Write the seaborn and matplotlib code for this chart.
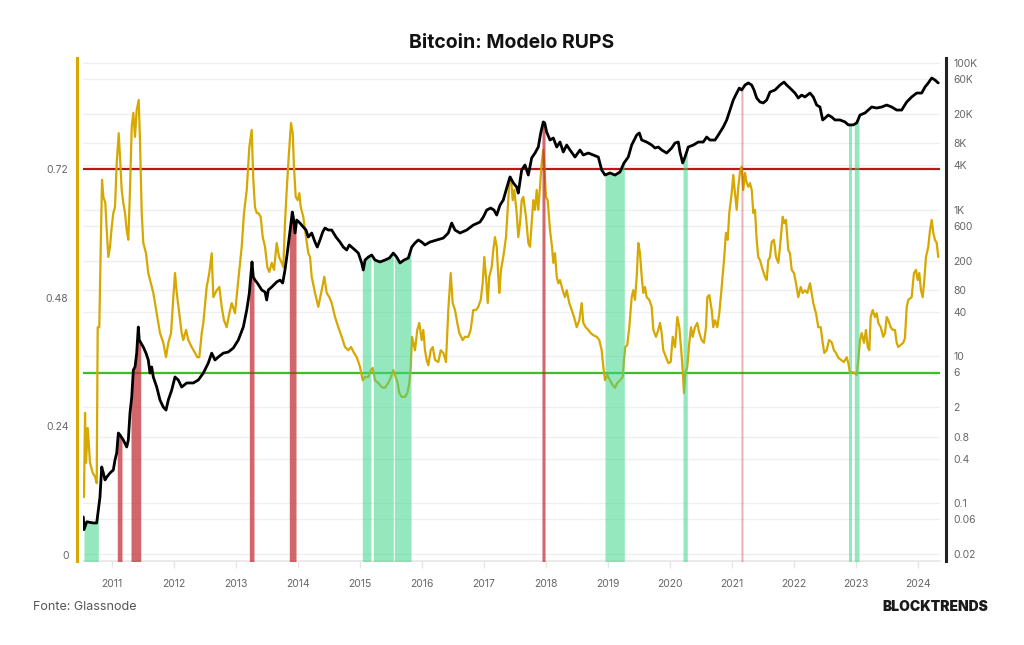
import matplotlib
matplotlib.use("Agg")
import matplotlib.pyplot as plt
import matplotlib.ticker as mticker
import matplotlib.transforms as mtransforms
import numpy as np
import pandas as pd
import seaborn as sns

# RUPS (left axis), decimal years
rups_year = [
    2010.548, 2010.565, 2010.581, 2010.608, 2010.645, 2010.689, 2010.726, 2010.753, 2010.769, 2010.795,
    2010.818, 2010.839, 2010.860, 2010.892, 2010.915, 2010.940, 2010.968, 2010.995, 2011.021, 2011.048,
    2011.076, 2011.108, 2011.129, 2011.156, 2011.182, 2011.210, 2011.237, 2011.263, 2011.290, 2011.318,
    2011.344, 2011.371, 2011.398, 2011.431, 2011.452, 2011.479, 2011.505, 2011.548, 2011.585, 2011.613,
    2011.666, 2011.721, 2011.774, 2011.827, 2011.871, 2011.908, 2011.952, 2011.989, 2012.016, 2012.044,
    2012.085, 2012.124, 2012.150, 2012.194, 2012.231, 2012.285, 2012.339, 2012.376, 2012.408, 2012.447,
    2012.473, 2012.527, 2012.569, 2012.608, 2012.634, 2012.689, 2012.731, 2012.769, 2012.806, 2012.850,
    2012.892, 2012.931, 2012.984, 2013.037, 2013.092, 2013.129, 2013.173, 2013.215, 2013.253, 2013.279,
    2013.306, 2013.334, 2013.360, 2013.398, 2013.431, 2013.468, 2013.505, 2013.537, 2013.576, 2013.613,
    2013.656, 2013.694, 2013.737, 2013.763, 2013.790, 2013.818, 2013.850, 2013.887, 2013.915, 2013.935,
    2013.963, 2013.995, 2014.021, 2014.044, 2014.085, 2014.129, 2014.166, 2014.194, 2014.221, 2014.274,
    2014.327, 2014.382, 2014.424, 2014.463, 2014.505, 2014.544, 2014.597, 2014.650, 2014.705, 2014.758,
    2014.811, 2014.855, 2014.903, 2014.947, 2015.000, 2015.044, 2015.081, 2015.134, 2015.173, 2015.205,
    2015.242, 2015.295, 2015.350, 2015.403, 2015.456, 2015.500, 2015.537, 2015.576, 2015.608, 2015.634,
    2015.673, 2015.726, 2015.763, 2015.795, 2015.818, 2015.839, 2015.860, 2015.887, 2015.924, 2015.956,
    2015.995, 2016.021, 2016.048, 2016.076, 2016.102, 2016.140, 2016.173, 2016.210, 2016.263, 2016.302,
    2016.344, 2016.387, 2016.424, 2016.463, 2016.495, 2016.532, 2016.569, 2016.602, 2016.656, 2016.694,
    2016.747, 2016.785, 2016.827, 2016.871, 2016.908, 2016.947, 2016.979, 2017.005, 2017.032, 2017.060,
    2017.085, 2017.124, 2017.150, 2017.177, 2017.205, 2017.231, 2017.247, 2017.274, 2017.311, 2017.355,
    2017.382, 2017.408, 2017.435, 2017.463, 2017.489, 2017.527, 2017.553, 2017.581, 2017.608, 2017.634,
    2017.677, 2017.715, 2017.742, 2017.769, 2017.795, 2017.823, 2017.850, 2017.876, 2017.903, 2017.931,
    2017.956, 2017.979, 2018.000, 2018.027, 2018.065, 2018.097, 2018.118, 2018.145, 2018.173, 2018.198,
    2018.226, 2018.269, 2018.306, 2018.334, 2018.376, 2018.415, 2018.452, 2018.495, 2018.537, 2018.576,
    2018.602, 2018.640, 2018.682, 2018.721, 2018.763, 2018.818, 2018.860, 2018.898, 2018.924, 2018.952,
    2018.989, 2019.032, 2019.076, 2019.113, 2019.150, 2019.194, 2019.237, 2019.258, 2019.279, 2019.311,
    2019.344, 2019.382, 2019.408, 2019.435, 2019.463, 2019.489, 2019.516, 2019.544, 2019.569, 2019.597,
    2019.624, 2019.666, 2019.705, 2019.731, 2019.774, 2019.811, 2019.839, 2019.866, 2019.892, 2019.935,
    2019.973, 2020.011, 2020.044, 2020.081, 2020.118, 2020.150, 2020.177, 2020.205, 2020.226, 2020.247,
    2020.279, 2020.311, 2020.339, 2020.366, 2020.403, 2020.440, 2020.473, 2020.511, 2020.548, 2020.581,
    2020.602, 2020.634, 2020.673, 2020.698, 2020.726, 2020.763, 2020.795, 2020.834, 2020.871, 2020.903,
    2020.931, 2020.956, 2020.995, 2021.021, 2021.048, 2021.076, 2021.102, 2021.129, 2021.156, 2021.182,
    2021.210, 2021.237, 2021.263, 2021.290, 2021.318, 2021.344, 2021.371, 2021.398, 2021.424, 2021.452,
    2021.495, 2021.532, 2021.560, 2021.585, 2021.613, 2021.640, 2021.677, 2021.710, 2021.747, 2021.774,
    2021.818, 2021.844, 2021.871, 2021.908, 2021.935, 2021.963, 2022.000, 2022.032, 2022.069, 2022.108,
    2022.140, 2022.177, 2022.215, 2022.258, 2022.285, 2022.311, 2022.355, 2022.392, 2022.431, 2022.463,
    2022.489, 2022.527, 2022.565, 2022.608, 2022.645, 2022.677, 2022.715, 2022.758, 2022.806, 2022.850,
    2022.876, 2022.903, 2022.956, 2023.011, 2023.037, 2023.065, 2023.092, 2023.129, 2023.161, 2023.189,
    2023.215, 2023.237, 2023.269, 2023.306, 2023.334, 2023.360, 2023.398, 2023.440, 2023.468, 2023.495,
    2023.521, 2023.560, 2023.592, 2023.629, 2023.656, 2023.682, 2023.721, 2023.763, 2023.790, 2023.818,
    2023.844, 2023.898, 2023.935, 2023.968, 2023.995, 2024.021, 2024.048, 2024.076, 2024.102, 2024.129,
    2024.166, 2024.194, 2024.221, 2024.247, 2024.274, 2024.302, 2024.327,
]
rups_value = [
    0.108, 0.265, 0.172, 0.237, 0.172, 0.153, 0.146, 0.134, 0.425, 0.425,
    0.575, 0.700, 0.668, 0.657, 0.606, 0.556, 0.575, 0.612, 0.638, 0.649,
    0.731, 0.787, 0.743, 0.681, 0.657, 0.638, 0.606, 0.588, 0.681, 0.799,
    0.825, 0.780, 0.830, 0.849, 0.769, 0.638, 0.582, 0.563, 0.526, 0.513,
    0.489, 0.451, 0.414, 0.396, 0.369, 0.396, 0.414, 0.481, 0.526, 0.489,
    0.451, 0.414, 0.401, 0.420, 0.401, 0.388, 0.377, 0.369, 0.369, 0.414,
    0.433, 0.500, 0.526, 0.563, 0.481, 0.494, 0.500, 0.463, 0.438, 0.425,
    0.451, 0.470, 0.451, 0.513, 0.575, 0.638, 0.681, 0.761, 0.793, 0.700,
    0.649, 0.638, 0.638, 0.631, 0.593, 0.575, 0.537, 0.528, 0.545, 0.532,
    0.582, 0.556, 0.545, 0.537, 0.619, 0.681, 0.743, 0.806, 0.787, 0.724,
    0.668, 0.662, 0.675, 0.649, 0.631, 0.593, 0.563, 0.556, 0.519, 0.489,
    0.463, 0.494, 0.519, 0.489, 0.481, 0.470, 0.444, 0.425, 0.407, 0.388,
    0.382, 0.388, 0.377, 0.369, 0.351, 0.326, 0.332, 0.332, 0.345, 0.349,
    0.326, 0.321, 0.313, 0.312, 0.321, 0.332, 0.345, 0.332, 0.321, 0.302,
    0.295, 0.295, 0.302, 0.321, 0.351, 0.407, 0.396, 0.382, 0.420, 0.433,
    0.401, 0.420, 0.382, 0.364, 0.354, 0.382, 0.388, 0.364, 0.360, 0.382,
    0.377, 0.360, 0.457, 0.526, 0.470, 0.457, 0.433, 0.414, 0.401, 0.407,
    0.407, 0.420, 0.457, 0.457, 0.463, 0.476, 0.507, 0.556, 0.519, 0.470,
    0.519, 0.537, 0.569, 0.593, 0.575, 0.519, 0.489, 0.532, 0.556, 0.593,
    0.644, 0.694, 0.705, 0.662, 0.681, 0.638, 0.593, 0.619, 0.662, 0.668,
    0.631, 0.582, 0.575, 0.619, 0.662, 0.644, 0.681, 0.644, 0.687, 0.731,
    0.756, 0.713, 0.668, 0.662, 0.606, 0.575, 0.545, 0.563, 0.519, 0.507,
    0.513, 0.494, 0.481, 0.494, 0.470, 0.457, 0.444, 0.425, 0.438, 0.470,
    0.433, 0.425, 0.420, 0.414, 0.410, 0.407, 0.401, 0.382, 0.351, 0.326,
    0.336, 0.326, 0.317, 0.312, 0.321, 0.326, 0.332, 0.364, 0.388, 0.392,
    0.425, 0.481, 0.494, 0.476, 0.519, 0.582, 0.563, 0.519, 0.489, 0.500,
    0.481, 0.476, 0.463, 0.420, 0.407, 0.420, 0.433, 0.414, 0.382, 0.369,
    0.358, 0.360, 0.407, 0.388, 0.444, 0.425, 0.388, 0.345, 0.302, 0.340,
    0.351, 0.396, 0.425, 0.407, 0.425, 0.433, 0.414, 0.401, 0.396, 0.425,
    0.481, 0.485, 0.457, 0.425, 0.438, 0.425, 0.451, 0.500, 0.550, 0.601,
    0.588, 0.638, 0.675, 0.709, 0.675, 0.644, 0.687, 0.715, 0.724, 0.681,
    0.713, 0.694, 0.687, 0.694, 0.681, 0.638, 0.644, 0.588, 0.556, 0.550,
    0.532, 0.519, 0.513, 0.550, 0.556, 0.584, 0.588, 0.556, 0.545, 0.575,
    0.631, 0.619, 0.625, 0.569, 0.563, 0.532, 0.526, 0.507, 0.481, 0.500,
    0.489, 0.494, 0.489, 0.507, 0.489, 0.470, 0.451, 0.425, 0.425, 0.396,
    0.377, 0.382, 0.401, 0.397, 0.382, 0.377, 0.368, 0.364, 0.360, 0.369,
    0.358, 0.340, 0.341, 0.336, 0.364, 0.401, 0.414, 0.396, 0.420, 0.388,
    0.382, 0.444, 0.457, 0.444, 0.451, 0.433, 0.425, 0.407, 0.414, 0.444,
    0.438, 0.425, 0.420, 0.420, 0.396, 0.388, 0.392, 0.396, 0.405, 0.463,
    0.476, 0.481, 0.526, 0.532, 0.513, 0.526, 0.494, 0.481, 0.513, 0.556,
    0.575, 0.606, 0.625, 0.601, 0.588, 0.582, 0.556,
]

# BTC price (right axis, log)
price_year = [
    2010.537, 2010.548, 2010.592, 2010.698, 2010.753, 2010.779, 2010.806, 2010.834, 2010.860, 2010.887,
    2010.915, 2010.968, 2011.021, 2011.048, 2011.076, 2011.102, 2011.129, 2011.182, 2011.237, 2011.263,
    2011.290, 2011.318, 2011.344, 2011.371, 2011.398, 2011.424, 2011.440, 2011.468, 2011.505, 2011.548,
    2011.585, 2011.613, 2011.640, 2011.666, 2011.721, 2011.774, 2011.827, 2011.871, 2011.908, 2011.963,
    2012.016, 2012.069, 2012.124, 2012.205, 2012.311, 2012.392, 2012.473, 2012.553, 2012.608, 2012.661,
    2012.715, 2012.795, 2012.876, 2012.956, 2013.037, 2013.118, 2013.173, 2013.215, 2013.258, 2013.279,
    2013.306, 2013.344, 2013.415, 2013.468, 2013.495, 2013.521, 2013.576, 2013.656, 2013.710, 2013.753,
    2013.790, 2013.827, 2013.860, 2013.887, 2013.908, 2013.924, 2013.952, 2013.979, 2014.032, 2014.085,
    2014.129, 2014.166, 2014.221, 2014.274, 2014.311, 2014.355, 2014.398, 2014.435, 2014.489, 2014.544,
    2014.613, 2014.677, 2014.731, 2014.785, 2014.827, 2014.866, 2014.919, 2014.973, 2015.027, 2015.053,
    2015.081, 2015.134, 2015.189, 2015.242, 2015.323, 2015.403, 2015.473, 2015.537, 2015.592, 2015.645,
    2015.710, 2015.779, 2015.834, 2015.887, 2015.940, 2015.995, 2016.048, 2016.129, 2016.237, 2016.344,
    2016.424, 2016.479, 2016.532, 2016.613, 2016.721, 2016.827, 2016.935, 2016.989, 2017.044, 2017.108,
    2017.161, 2017.205, 2017.258, 2017.311, 2017.366, 2017.419, 2017.473, 2017.527, 2017.553, 2017.608,
    2017.661, 2017.715, 2017.769, 2017.823, 2017.876, 2017.915, 2017.956, 2017.979, 2018.011, 2018.065,
    2018.118, 2018.173, 2018.226, 2018.279, 2018.334, 2018.387, 2018.468, 2018.548, 2018.602, 2018.682,
    2018.763, 2018.844, 2018.898, 2018.952, 2019.032, 2019.113, 2019.194, 2019.258, 2019.327, 2019.382,
    2019.463, 2019.505, 2019.544, 2019.624, 2019.705, 2019.758, 2019.811, 2019.866, 2019.947, 2020.027,
    2020.081, 2020.134, 2020.161, 2020.205, 2020.242, 2020.295, 2020.376, 2020.456, 2020.537, 2020.592,
    2020.645, 2020.726, 2020.779, 2020.860, 2020.915, 2020.968, 2021.021, 2021.076, 2021.118, 2021.156,
    2021.210, 2021.263, 2021.318, 2021.355, 2021.398, 2021.452, 2021.505, 2021.560, 2021.613, 2021.694,
    2021.774, 2021.839, 2021.882, 2021.935, 2022.016, 2022.069, 2022.124, 2022.177, 2022.258, 2022.311,
    2022.366, 2022.419, 2022.463, 2022.500, 2022.553, 2022.608, 2022.661, 2022.742, 2022.823, 2022.876,
    2022.956, 2023.011, 2023.065, 2023.145, 2023.198, 2023.253, 2023.334, 2023.415, 2023.495, 2023.576,
    2023.656, 2023.737, 2023.818, 2023.898, 2023.979, 2024.060, 2024.113, 2024.166, 2024.221, 2024.274,
    2024.327,
]
price_value = [
    0.064, 0.043, 0.055, 0.053, 0.053, 0.080, 0.120, 0.308, 0.255, 0.205,
    0.224, 0.255, 0.280, 0.383, 0.478, 0.895, 0.840, 0.718, 0.577, 0.718,
    1.68, 2.77, 6.47, 7.12, 11.0, 25.0, 16.6, 15.1, 13.3, 11.0,
    8.87, 5.89, 7.12, 5.20, 3.79, 2.52, 2.02, 1.84, 2.52, 3.45,
    5.20, 4.73, 3.79, 4.31, 4.31, 4.73, 5.89, 8.07, 11.0, 8.87,
    9.75, 11.0, 11.4, 12.9, 16.6, 25.0, 42.6, 72.7, 193, 120,
    109, 99.5, 80.0, 75.0, 58.4, 80.0, 87.9, 103, 109, 99.5,
    150, 255, 422, 655, 926, 791, 479, 720, 655, 578,
    526, 422, 479, 361, 308, 385, 494, 560, 526, 526,
    422, 361, 308, 281, 329, 308, 281, 255, 187, 150,
    205, 225, 240, 205, 193, 205, 218, 255, 225, 187,
    205, 218, 308, 350, 385, 361, 329, 361, 385, 409,
    479, 655, 526, 479, 526, 615, 676, 791, 986, 1050,
    986, 842, 1150, 1350, 1970, 2790, 2310, 2030, 1680, 3470,
    4060, 2960, 5060, 5910, 7140, 11100, 15700, 15200, 11400, 8890,
    9470, 7140, 8350, 6100, 7600, 6500, 5210, 6500, 5550, 5910,
    5550, 5210, 3470, 2960, 3160, 2960, 3260, 4320, 5210, 7600,
    10400, 11100, 8890, 8350, 7600, 6920, 7140, 6500, 5910, 6920,
    8100, 8350, 6100, 4320, 5210, 7140, 7600, 8350, 8350, 9770,
    8890, 8890, 10400, 13400, 16700, 22800, 31300, 38900, 45500, 42800,
    50000, 53400, 50000, 42800, 33300, 29400, 28500, 31300, 40200, 42800,
    50000, 54900, 50000, 45500, 38900, 33300, 36500, 34400, 38900, 34400,
    26700, 25100, 16700, 17700, 19500, 18300, 16700, 16700, 15700, 14300,
    14300, 15200, 19500, 20800, 22800, 25100, 24300, 25100, 26700, 25100,
    22800, 22800, 29400, 34400, 38900, 38900, 47000, 53400, 62400, 58600,
    53400,
]

# shaded periods (RUPS below 0.34 -> green, above 0.72 -> red)
green_start = [2010.548, 2015.037, 2015.215, 2015.553, 2018.952, 2020.210, 2022.887, 2022.973]
green_end = [2010.779, 2015.177, 2015.537, 2015.823, 2019.263, 2020.279, 2022.940, 2023.048]
red_start = [2011.085, 2011.306, 2013.215, 2013.860, 2017.935, 2021.145]
red_end = [2011.161, 2011.463, 2013.290, 2013.968, 2017.984, 2021.177]

top_level = 0.72
bottom_level = 0.34

left_ticks = [0, 0.24, 0.48, 0.72]
left_labels = ["0", "0.24", "0.48", "0.72"]
right_ticks = [0.02, 0.06, 0.1, 0.4, 0.8, 2, 6, 10, 40, 80, 200, 600, 1000,
               4000, 8000, 20000, 60000, 100000]
right_labels = ["0.02", "0.06", "0.1", "0.4", "0.8", "2", "6", "10", "40", "80",
                "200", "600", "1K", "4K", "8K", "20K", "60K", "100K"]
years = list(range(2011, 2025))

rups_df = pd.DataFrame({"year": rups_year, "rups": rups_value})
price_df = pd.DataFrame({"year": price_year, "price": price_value})

sns.set_theme(style="white")
plt.rcParams["font.family"] = ["Inter", "DejaVu Sans"]

yellow = "#d6a800"
grey_text = "#666666"

fig = plt.figure(figsize=(10.24, 6.45), dpi=100)
ax = fig.add_axes([0.08105, 0.13023, 0.83691, 0.77984])
ax2 = ax.twinx()

ax.set_xlim(2010.532, 2024.355)
ax.set_ylim(-0.0112, 0.9272)
ax2.set_yscale("log")
ax2.set_ylim(0.01605, 116960)

# faint horizontal grid at the price ticks, kept underneath everything
grid_tr = mtransforms.blended_transform_factory(ax.transAxes, ax2.transData)
for v in right_ticks:
    ax.plot([0, 1], [v, v], transform=grid_tr, color="#efefef", linewidth=0.9, zorder=0)

# RUPS line and thresholds
ax.axhline(top_level, color="#c0141a", linewidth=1.6, zorder=1)
ax.axhline(bottom_level, color="#3cbf22", linewidth=1.6, zorder=1)
sns.lineplot(data=rups_df, x="year", y="rups", ax=ax, color=yellow,
             linewidth=1.6, estimator=None, sort=False, zorder=2)

ax.set_xlim(2010.532, 2024.355)
ax.set_ylim(-0.0112, 0.9272)
ax.set_yticks(left_ticks)
ax.set_yticklabels(left_labels)
ax.set_xticks(years)
ax.set_xticklabels([str(y) for y in years])
ax.set_xlabel("")
ax.set_ylabel("")

# price axis: shaded periods under the price line
bottom = 0.001
for s, e in zip(green_start, green_end):
    xs = [s] + [t for t in price_year if s < t < e] + [e]
    ys = np.interp(xs, price_year, price_value)
    ax2.fill_between(xs, bottom, ys, color="#3fd68a", alpha=0.55, linewidth=0)
for s, e in zip(red_start, red_end):
    xs = [s] + [t for t in price_year if s < t < e] + [e]
    ys = np.interp(xs, price_year, price_value)
    a = 0.35 if e - s < 0.04 else 0.7
    ax2.fill_between(xs, bottom, ys, color="#c0272d", alpha=a, linewidth=0)

sns.lineplot(data=price_df, x="year", y="price", ax=ax2, color="black",
             linewidth=2.0, estimator=None, sort=False)
ax2.set_ylim(0.01605, 116960)
ax2.yaxis.set_major_locator(mticker.FixedLocator(right_ticks))
ax2.yaxis.set_minor_locator(mticker.NullLocator())
ax2.set_yticklabels(right_labels)
ax2.set_ylabel("")

ax.set_zorder(1)
ax2.set_zorder(2)
ax2.patch.set_visible(False)

# spines
for sp in ["top", "right"]:
    ax.spines[sp].set_visible(False)
ax.spines["left"].set_color(yellow)
ax.spines["left"].set_linewidth(2.2)
ax.spines["left"].set_position(("outward", 4.5))
ax.spines["bottom"].set_color("#e6e6e6")
ax.spines["bottom"].set_linewidth(1.2)
for sp in ["top", "left", "bottom"]:
    ax2.spines[sp].set_visible(False)
ax2.spines["right"].set_color("#222222")
ax2.spines["right"].set_linewidth(2.2)
ax2.spines["right"].set_position(("outward", 4.5))

ax.tick_params(axis="y", length=0, pad=6, labelsize=7.5, labelcolor=grey_text)
ax.tick_params(axis="x", length=5, width=1, color="#e6e6e6", pad=8,
               labelsize=7.5, labelcolor=grey_text, bottom=True)
ax2.tick_params(axis="y", length=0, pad=5, labelsize=7.5, labelcolor=grey_text)

fig.text(0.5, 0.933, "Bitcoin: Modelo RUPS", ha="center", va="center",
         fontsize=14, fontweight="bold", color="#111111")
fig.text(0.032, 0.059, "Fonte: Glassnode", ha="left", va="center",
         fontsize=9, color="#555555")
fig.text(0.965, 0.059, "BLOCKTRENDS", ha="right", va="center",
         fontsize=10, fontweight="black", color="#1a1a1a")

fig.savefig("out.png", dpi=100)
